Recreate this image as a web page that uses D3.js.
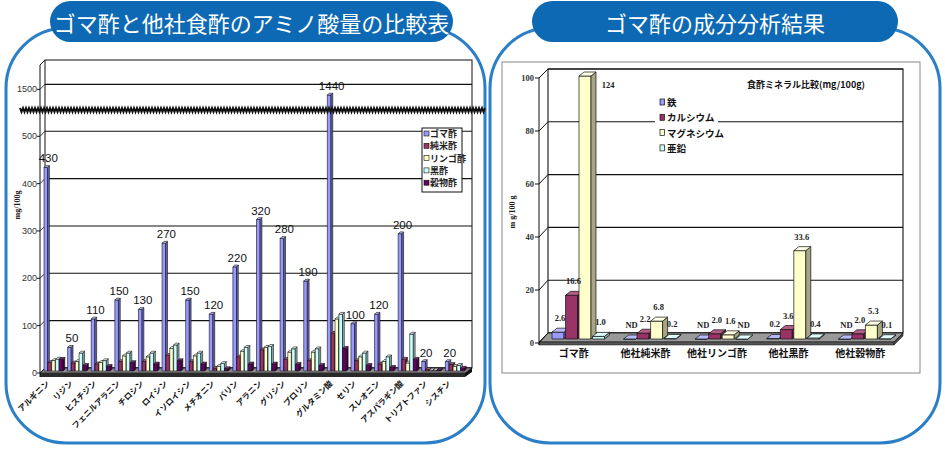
<!DOCTYPE html>
<html><head><meta charset="utf-8">
<script src="https://cdn.jsdelivr.net/npm/d3@7"></script>
<style>body{margin:0;background:#fff;} svg{display:block}</style>
</head><body>
<svg id="c" width="945" height="451"></svg>
<script>
// ---------- DATA ----------
const aminoAcids = ["アルギニン","リジン","ヒスチジン","フェニルアラニン","チロシン","ロイシン","イソロイシン","メチオニン","バリン","アラニン","グリシン","プロリン","グルタミン酸","セリン","スレオニン","アスパラギン酸","トリプトファン","シスチン"];
const vinegarSeries = ["ゴマ酢","純米酢","リンゴ酢","黒酢","穀物酢"];
const gomaVals      = [430, 50,110,150,130,270,150,120,220,320,280,190,1440,100,120,290,20,20];
const gomaLabels    = ["430","50","110","150","130","270","150","120","220","320","280","190","1440","100","120","200","20","20"];
const junmaiVals    = [18, 17, 15, 20, 20, 33, 20,  6, 30, 45, 25, 22,  80, 22, 15, 25, 3, 14];
const ringoVals     = [22, 20, 18, 32, 30, 48, 32, 10, 42, 50, 40, 40, 110, 30, 20, 17, 2, 10];
const kuroVals      = [25, 38, 22, 38, 38, 55, 38, 16, 50, 52, 47, 47, 120, 38, 30, 78, 2, 12];
const kokumotsuVals = [25, 12, 10, 18, 15, 22, 15,  5, 15, 15, 14, 12,  48, 12,  8, 25, 2,  6];
const aminoTicks = [0,100,200,300,400,500,1500];

const mineralCats = ["ゴマ酢","他社純米酢","他社リンゴ酢","他社黒酢","他社穀物酢"];
const minerals = ["鉄","カルシウム","マグネシウム","亜鉛"];
const ironVals      = [2.6, null, null, 0.2, null];
const calciumVals   = [16.6, 2.2, 2.0, 3.6, 2.0];
const magnesiumVals = [124, 6.8, 1.6, 33.6, 5.3];
const zincVals      = [1.0, 0.2, null, 0.4, 0.1];
const mineralTicks = [0,20,40,60,80,100];

// ---------- STYLE ----------
const JP = "'Noto Sans CJK JP','Noto Sans',sans-serif";
const SERIF = "'Liberation Serif','DejaVu Serif',serif";
const vinegarColors = [
  {front:"#9999ff", side:"#6666b8", top:"#bcbcff"},
  {front:"#993366", side:"#66223f", top:"#b8668c"},
  {front:"#ffffcc", side:"#b3b38c", top:"#ffffe6"},
  {front:"#ccffff", side:"#8cb3b3", top:"#e6ffff"},
  {front:"#660066", side:"#400040", top:"#8c338c"}
];
const mineralColors = [
  {front:"#9999ff", side:"#6d6db5", top:"#b8b8ff"},
  {front:"#993366", side:"#6a2346", top:"#b35c85"},
  {front:"#ffffcc", side:"#a6a685", top:"#ffffe3"},
  {front:"#ccffff", side:"#8aadad", top:"#e3ffff"}
];

const svg = d3.select("#c");

function bar3d(g, x, w, yT, yB, dx, dy, c, sw){
  const st = "#111";
  g.append("path").attr("d",`M${x},${yB}V${yT}H${x+w}V${yB}Z`)
    .attr("fill",c.front).attr("stroke",st).attr("stroke-width",sw);
  g.append("path").attr("d",`M${x+w},${yB}L${x+w+dx},${yB+dy}L${x+w+dx},${yT+dy}L${x+w},${yT}Z`)
    .attr("fill",c.side).attr("stroke",st).attr("stroke-width",sw);
  g.append("path").attr("d",`M${x},${yT}L${x+dx},${yT+dy}L${x+w+dx},${yT+dy}L${x+w},${yT}Z`)
    .attr("fill",c.top).attr("stroke",st).attr("stroke-width",sw);
}

// ---------- PANELS ----------
const PANEL_STROKE = "#2b7fc6";
svg.append("rect").attr("x",6).attr("y",28).attr("width",479).attr("height",415).attr("rx",60)
  .attr("fill","none").attr("stroke",PANEL_STROKE).attr("stroke-width",3);
svg.append("rect").attr("x",490).attr("y",28).attr("width",450).attr("height",415).attr("rx",60)
  .attr("fill","none").attr("stroke",PANEL_STROKE).attr("stroke-width",3);

const pills = [
  {x:50, w:403, text:"ゴマ酢と他社食酢のアミノ酸量の比較表"},
  {x:532, w:366, text:"ゴマ酢の成分分析結果"}
];
pills.forEach(p=>{
  svg.append("rect").attr("x",p.x).attr("y",1).attr("width",p.w).attr("height",41).attr("rx",20.5)
    .attr("fill","#0d69b3");
  svg.append("text").attr("x",p.x+p.w/2).attr("y",21.5).attr("dominant-baseline","central")
    .attr("text-anchor","middle").attr("fill","#fff").attr("font-family",JP).attr("font-weight",400)
    .attr("font-size",22).text(p.text);
});

// ---------- LEFT CHART ----------
(function(){
  const g = svg.append("g");
  const xA = d3.scaleBand().domain(aminoAcids).range([40,465]);
  const xS = d3.scaleBand().domain(vinegarSeries).range([4,23]).paddingInner(0.06);
  const yWall = d3.scaleLinear().domain([0,545,1300,1690]).range([368,110,110,60]);
  const yFront = d3.scaleLinear().domain([0,545,1300,1690]).range([373,115,115,65]);
  const yBar = d3.scaleLinear().domain([0,545,1300,1690]).range([371,113,113,63]);
  const seriesVals = [gomaVals, junmaiVals, ringoVals, kuroVals, kokumotsuVals];

  // back wall
  g.append("rect").attr("x",45).attr("y",60).attr("width",427).attr("height",308)
    .attr("fill","#fff").attr("stroke","#111").attr("stroke-width",1);
  aminoTicks.forEach(t=>{
    g.append("line").attr("x1",45).attr("x2",472).attr("y1",yWall(t)).attr("y2",yWall(t))
      .attr("stroke","#111").attr("stroke-width",1.1);
  });
  // floor
  g.append("path").attr("d",`M40,373L465,373L472,368L45,368Z`).attr("fill","#8a8a8a").attr("stroke","#111").attr("stroke-width",0.8);
  g.append("path").attr("d",`M40,373L465,373L465,377L40,377Z`).attr("fill","#2a2a2a");
  g.append("path").attr("d",`M465,373L472,368L472,372L465,377Z`).attr("fill","#111");

  // axis
  g.append("line").attr("x1",40).attr("x2",40).attr("y1",377).attr("y2",65).attr("stroke","#111");
  g.append("line").attr("x1",40).attr("x2",45).attr("y1",65).attr("y2",60).attr("stroke","#111");
  aminoTicks.forEach(t=>{
    g.append("line").attr("x1",37).attr("x2",40).attr("y1",yFront(t)).attr("y2",yFront(t)).attr("stroke","#111");
    g.append("line").attr("x1",40).attr("x2",45).attr("y1",yFront(t)).attr("y2",yWall(t)).attr("stroke","#111").attr("stroke-width",0.8);
    g.append("text").attr("x",37).attr("y",yFront(t)+3).attr("text-anchor","end")
      .attr("font-family","'Liberation Sans',Arial,sans-serif").attr("font-size",9).attr("fill","#333").text(t);
  });
  g.append("text").attr("transform","translate(20,205) rotate(-90)").attr("text-anchor","middle")
    .attr("font-family",SERIF).attr("font-weight","bold").attr("font-size",8).attr("fill","#222").text("mg/100g");

  // bars
  aminoAcids.forEach((a,i)=>{
    vinegarSeries.forEach((s,j)=>{
      const v = seriesVals[j][i];
      const x = xA(a)+xS(s);
      bar3d(g, x, xS.bandwidth(), yBar(v), 371, 1.8, -1.8, vinegarColors[j], 0.6);
    });
  });
  // data labels
  aminoAcids.forEach((a,i)=>{
    const x = xA(a)+xS(vinegarSeries[0])+xS.bandwidth()/2+2.5;
    g.append("text").attr("x",x).attr("y",yBar(gomaVals[i])-5).attr("text-anchor","middle")
      .attr("font-family","'Liberation Sans',Arial,sans-serif").attr("font-size",11.5).attr("fill","#111")
      .text(gomaLabels[i]);
  });

  // axis break (wavy line)
  const pts = d3.range(20, 486, 1.5).map((x,k)=>[x, 110 + (k%2 ? 2 : -2)]);
  g.append("path").attr("d", d3.line()(pts)).attr("fill","none").attr("stroke","#111").attr("stroke-width",2);

  // category labels
  aminoAcids.forEach(a=>{
    const cx = xA(a)+xA.bandwidth()/2 - 2;
    g.append("text").attr("transform",`translate(${cx},384) rotate(-45)`).attr("text-anchor","end")
      .attr("font-family",JP).attr("font-weight","bold").attr("font-size",8).attr("fill","#111").text(a);
  });

  // legend
  const lg = g.append("g");
  lg.append("rect").attr("x",422).attr("y",128).attr("width",40).attr("height",64)
    .attr("fill","#fff").attr("stroke","#111").attr("stroke-width",1);
  vinegarSeries.forEach((s,j)=>{
    const y = 133.5 + j*12.3;
    lg.append("rect").attr("x",424).attr("y",y-2.5).attr("width",5).attr("height",5)
      .attr("fill",vinegarColors[j].front).attr("stroke","#111").attr("stroke-width",0.6);
    lg.append("text").attr("x",430).attr("y",y).attr("dominant-baseline","central")
      .attr("font-family",JP).attr("font-weight","bold").attr("font-size",9).attr("fill","#222").text(s);
  });
})();

// ---------- RIGHT CHART ----------
(function(){
  const g = svg.append("g");
  const xM = d3.scaleBand().domain(mineralCats).range([539,897]);
  const xMi = d3.scaleBand().domain(minerals).range([13,67]);
  const yA = d3.scaleLinear().domain([0,100]).range([343,78]);
  const yW = d3.scaleLinear().domain([0,100]).range([333,69]);
  const yB = d3.scaleLinear().domain([0,100]).range([339,76]).clamp(true);
  const vals = [ironVals, calciumVals, magnesiumVals, zincVals];

  // outer frame
  g.append("rect").attr("x",502).attr("y",62).attr("width",418).attr("height",311)
    .attr("fill","#fff").attr("stroke","#888").attr("stroke-width",1);
  // wall
  g.append("rect").attr("x",548).attr("y",yW(100)).attr("width",355).attr("height",yW(0)-yW(100))
    .attr("fill","#fff").attr("stroke","#111").attr("stroke-width",1.1);
  mineralTicks.forEach(t=>{
    g.append("line").attr("x1",548).attr("x2",903).attr("y1",yW(t)).attr("y2",yW(t))
      .attr("stroke","#111").attr("stroke-width",1.1);
  });
  // floor
  g.append("path").attr("d",`M539,342L894,342L903,333L548,333Z`).attr("fill","#999").attr("stroke","#111").attr("stroke-width",0.8);
  g.append("path").attr("d",`M539,342L894,342L894,345L539,345Z`).attr("fill","#555").attr("stroke","#111").attr("stroke-width",0.5);
  g.append("path").attr("d",`M894,342L903,333L903,336L894,345Z`).attr("fill","#444").attr("stroke","#111").attr("stroke-width",0.5);

  // axis
  g.append("line").attr("x1",539).attr("x2",539).attr("y1",345).attr("y2",yA(100)).attr("stroke","#111");
  mineralTicks.forEach(t=>{
    g.append("line").attr("x1",535).attr("x2",539).attr("y1",yA(t)).attr("y2",yA(t)).attr("stroke","#111");
    g.append("line").attr("x1",539).attr("x2",548).attr("y1",yA(t)).attr("y2",yW(t)).attr("stroke","#111");
    g.append("text").attr("x",534).attr("y",yA(t)+3).attr("text-anchor","end")
      .attr("font-family",SERIF).attr("font-weight","bold").attr("font-size",8.5).attr("fill","#333").text(t);
  });
  g.append("text").attr("transform","translate(515,212) rotate(-90)").attr("text-anchor","middle")
    .attr("font-family",SERIF).attr("font-weight","bold").attr("font-size",8).attr("fill","#222").text("m g/100 g");

  // bars
  const fmt1 = d3.format(".1f"), fmt0 = d3.format("d");
  mineralCats.forEach((c,i)=>{
    minerals.forEach((m,j)=>{
      const v = vals[j][i];
      const x = xM(c)+xMi(m);
      bar3d(g, x, 12, yB(v==null?0:v), 339, 5, -4, mineralColors[j], 0.7);
    });
  });
  mineralCats.forEach((c,i)=>{
    minerals.forEach((m,j)=>{
      const v = vals[j][i];
      const x = xM(c)+xMi(m);
      let lx = x+8, ly = yB(v==null?0:v)-4-7;
      if (v!=null && v>100){ lx = x+12+17; ly = yB(100)+12; }
      g.append("text").attr("x",lx).attr("y",ly).attr("text-anchor","middle")
        .attr("font-family",SERIF).attr("font-weight","bold").attr("font-size",8.5).attr("fill","#222")
        .text(v==null ? "ND" : (v>=100 ? fmt0(v) : fmt1(v)));
    });
  });
  // category labels
  mineralCats.forEach(c=>{
    g.append("text").attr("x",xM(c)+xM.bandwidth()/2-1).attr("y",357).attr("text-anchor","middle")
      .attr("font-family",JP).attr("font-weight","bold").attr("font-size",10).attr("fill","#111").text(c);
  });
  // legend
  g.append("rect").attr("x",655).attr("y",93).attr("width",63).attr("height",62).attr("fill","#fff");
  minerals.forEach((m,j)=>{
    const y = 102 + j*15.3;
    g.append("rect").attr("x",660).attr("y",y-3).attr("width",4.5).attr("height",6)
      .attr("fill",mineralColors[j].front).attr("stroke","#111").attr("stroke-width",0.7);
    g.append("text").attr("x",667).attr("y",y).attr("dominant-baseline","central")
      .attr("font-family",JP).attr("font-weight","bold").attr("font-size",9.5).attr("fill","#111").text(m);
  });
  g.append("text").attr("x",806).attr("y",88).attr("text-anchor","middle")
    .attr("font-family",JP).attr("font-weight","bold").attr("font-size",9).attr("fill","#111")
    .text("食酢ミネラル比較(mg/100g)");
})();
</script>
</body></html>
